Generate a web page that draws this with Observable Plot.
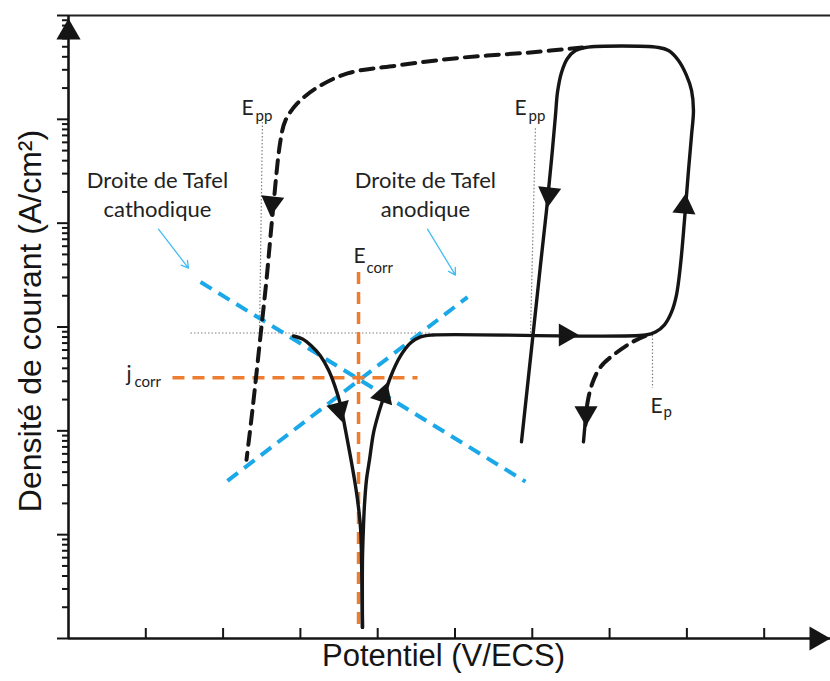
<!DOCTYPE html>
<html>
<head>
<meta charset="utf-8">
<script src="https://cdn.jsdelivr.net/npm/d3@7"></script>
<script src="https://cdn.jsdelivr.net/npm/@observablehq/plot@0.6"></script>
<style>
  html, body { margin: 0; padding: 0; background: #fff; }
  #chart svg { display: block; }
</style>
</head>
<body>
<div id="chart"></div>
<script>
// ---------- data (potential in arbitrary units, current density in A/cm²) ----------
const potentialTicks = [1, 2, 3, 4, 5, 6, 7, 8, 9];
const currentDecades = [1e-8, 1e-7, 1e-6, 1e-5, 1e-4, 1e-3, 1e-2];
const minorMultipliers = [2, 3, 4, 5, 6, 7, 8, 9];

// cathodic branch (solid) from top-left down to E_corr
const cathodicBranch = [
  [2.911, 8.19e-6], [3.027, 7.67e-6], [3.144, 6.56e-6], [3.260, 5.26e-6], [3.364, 3.86e-6],
  [3.441, 2.77e-6], [3.519, 1.78e-6], [3.583, 1.02e-6], [3.648, 5.62e-7], [3.700, 3.38e-7],
  [3.739, 2.17e-7], [3.777, 1.19e-7], [3.790, 6.43e-8], [3.803, 1.28e-8]
];

// anodic branch, passive plateau, pitting loop and reverse scan (solid)
const anodicLoop = [
  [3.803, 1.28e-8], [3.803, 5.75e-8], [3.816, 1.19e-7], [3.829, 1.94e-7], [3.855, 3.38e-7],
  [3.894, 5.26e-7], [3.946, 9.57e-7], [4.010, 1.46e-6], [4.075, 2.07e-6], [4.166, 3.30e-6],
  [4.295, 5.26e-6], [4.424, 7.01e-6], [4.554, 8.02e-6], [4.709, 8.37e-6], [7.464, 8.37e-6],
  [7.594, 8.95e-6], [7.710, 1.05e-5], [7.801, 1.39e-5], [7.865, 2.03e-5], [7.917, 3.94e-5],
  [7.969, 1.07e-4], [8.021, 3.24e-4], [8.060, 7.01e-4], [8.085, 1.22e-3], [8.060, 1.90e-3],
  [7.995, 2.65e-3], [7.891, 3.69e-3], [7.762, 4.60e-3], [7.633, 4.92e-3], [6.688, 4.92e-3],
  [6.559, 4.60e-3], [6.455, 3.86e-3], [6.378, 2.83e-3], [6.326, 1.82e-3], [6.300, 1.09e-3],
  [6.248, 4.04e-4], [6.184, 1.33e-4], [6.106, 3.94e-5], [6.016, 9.35e-6], [5.860, 7.83e-7]
];

// reverse scan continuing (dashed) towards the left
const reverseScan = [
  [6.649, 4.92e-3], [5.977, 4.41e-3], [5.110, 3.94e-3], [4.256, 3.30e-3], [3.609, 2.77e-3],
  [3.221, 2.03e-3], [2.963, 1.43e-3], [2.807, 9.77e-4], [2.743, 6.28e-4], [2.639, 1.19e-4],
  [2.561, 2.83e-5], [2.471, 6.71e-6], [2.380, 1.59e-6], [2.303, 5.26e-7]
];

// repassivation after E_p (dashed) and its solid tail
const repassivation = [
  [7.464, 8.19e-6], [7.296, 7.18e-6], [7.050, 5.38e-6], [6.882, 4.12e-6],
  [6.779, 2.90e-6], [6.714, 1.86e-6], [6.688, 1.14e-6]
];
const repassivationTail = [[6.688, 1.28e-6], [6.662, 7.83e-7]];

// dotted guide lines (E_pp, E_pp, plateau, E_p)
const guideLines = [
  {E1: 2.510, j1: 1.02e-3, E2: 2.471, j2: 8.57e-6},
  {E1: 6.041, j1: 8.19e-4, E2: 5.977, j2: 8.75e-6},
  {E1: 1.578, j1: 8.75e-6, E2: 4.683, j2: 8.75e-6},
  {E1: 7.555, j1: 8.37e-6, E2: 7.555, j2: 2.59e-6}
];

// Tafel lines (cathodic, anodic)
const tafelLines = [
  {E1: 1.708, j1: 2.71e-5, E2: 5.912, j2: 3.24e-7},
  {E1: 2.057, j1: 3.30e-7, E2: 5.162, j2: 1.94e-5}
];

// E_corr and j_corr lines
const corrosionLines = [
  {E1: 3.752, j1: 3.38e-5, E2: 3.752, j2: 1.36e-8},
  {E1: 1.345, j1: 3.24e-6, E2: 4.515, j2: 3.24e-6}
];

// thin pointers from Tafel labels
const labelPointers = [
  {E1: 1.164, j1: 8.75e-5, E2: 1.552, j2: 3.69e-5},
  {E1: 4.644, j1: 8.75e-5, E2: 5.006, j2: 3.16e-5}
];

// direction arrows along the curves (angle in degrees, 0 = up)
const flowArrows = [
  {E: 2.633, j: 1.56e-4, angle: 186},
  {E: 3.502, j: 1.61e-6, angle: 166},
  {E: 4.071, j: 2.20e-6, angle: 18},
  {E: 6.430, j: 8.37e-6, angle: 90},
  {E: 7.969, j: 1.44e-4, angle: 5},
  {E: 6.216, j: 1.90e-4, angle: 186},
  {E: 6.695, j: 1.49e-6, angle: 180}
];

// annotation labels (symbol + subscript)
const symbolLabels = [
  {E: 2.238, j: 1.28e-3, t: "E"},
  {E: 5.770, j: 1.28e-3, t: "E"},
  {E: 3.687, j: 4.82e-5, t: "E"},
  {E: 0.750, j: 3.53e-6, t: "j"},
  {E: 7.529, j: 1.74e-6, t: "E"}
];
const subscriptLabels = [
  {E: 2.419, j: 1.07e-3, t: "pp"},
  {E: 5.951, j: 1.07e-3, t: "pp"},
  {E: 3.855, j: 3.69e-5, t: "corr"},
  {E: 0.854, j: 2.96e-6, t: "corr"},
  {E: 7.697, j: 1.52e-6, t: "p"}
];
const tafelLabels = [
  {E: 1.151, j: 1.96e-4, t: "Droite de Tafel\ncathodique"},
  {E: 4.618, j: 1.96e-4, t: "Droite de Tafel\nanodique"}
];
const xTitle = "Potentiel (V/ECS)";
const yTitle = "Densité de courant (A/cm²)";

// ---------- chart ----------
const minorTicks = currentDecades.slice(0, -1).flatMap(d => minorMultipliers.map(m => m * d));
const ink = "#151515";
const curve = (pts, opts) => Plot.line(pts, {x: d => d[0], y: d => d[1], curve: "catmull-rom", stroke: ink, strokeWidth: 3.4, ...opts});
const seg = {x1: "E1", y1: "j1", x2: "E2", y2: "j2"};

const chart = Plot.plot({
  width: 830,
  height: 681,
  marginLeft: 68,
  marginRight: 2,
  marginTop: 15,
  marginBottom: 43,
  x: {domain: [0, 9.832]},
  y: {type: "log", domain: [1e-8, 1e-2]},
  style: {fontFamily: "Lato, 'Open Sans', sans-serif", background: "#fff", color: ink},
  marks: [
    // frame lines
    Plot.ruleY([1e-2], {stroke: "#222", strokeWidth: 2, insetRight: -2}),
    Plot.ruleX([0], {stroke: ink, strokeWidth: 2.6}),
    Plot.ruleY([1e-8], {stroke: ink, strokeWidth: 2.6, insetRight: -2}),
    // ticks
    Plot.axisY(currentDecades, {tickSize: 11, strokeWidth: 2, stroke: ink, fill: "none", label: null}),
    Plot.axisY(minorTicks, {tickSize: 6, strokeWidth: 2, stroke: ink, fill: "none", label: null}),
    Plot.axisX(potentialTicks, {tickSize: 10, dy: -10, strokeWidth: 2, stroke: ink, fill: "none", label: null}),
    // dotted guides
    Plot.link(guideLines, {...seg, stroke: "#808080", strokeWidth: 1.2, strokeDasharray: "1.5,2"}),
    // Tafel lines
    Plot.link(tafelLines, {...seg, stroke: "#1ba8e8", strokeWidth: 4, strokeDasharray: "13,8"}),
    Plot.arrow(labelPointers, {...seg, stroke: "#45bdf2", strokeWidth: 1.3, headLength: 9}),
    // E_corr / j_corr
    Plot.link(corrosionLines, {...seg, stroke: "#ed7d31", strokeWidth: 3.5, strokeDasharray: "12,8"}),
    // curves
    curve(reverseScan, {strokeWidth: 4, strokeDasharray: "13,8"}),
    curve(repassivation, {strokeWidth: 4, strokeDasharray: "13,8"}),
    curve(repassivationTail, {}),
    curve(cathodicBranch, {}),
    curve(anodicLoop, {}),
    // direction arrows
    Plot.dot(flowArrows, {x: "E", y: "j", rotate: "angle", symbol: "triangle", fill: ink, stroke: "none", r: 8.6}),
    // axis arrowheads
    Plot.dot([0], {frameAnchor: "top-left", dy: 17, symbol: "triangle", fill: ink, stroke: "none", r: 9}),
    Plot.dot([0], {frameAnchor: "bottom-right", dx: -12, rotate: 90, symbol: "triangle", fill: ink, stroke: "none", r: 9}),
    // labels
    Plot.text(symbolLabels, {x: "E", y: "j", text: "t", textAnchor: "start", fontSize: 21, fill: "#222"}),
    Plot.text(subscriptLabels, {x: "E", y: "j", text: "t", textAnchor: "start", fontSize: 15, fill: "#222"}),
    Plot.text(tafelLabels, {x: "E", y: "j", text: "t", textAnchor: "middle", fontSize: 22, lineHeight: 1.32, fill: "#222"}),
    Plot.text([xTitle], {text: d => d, frameAnchor: "bottom", textAnchor: "middle", dy: 27, dx: -5, fontSize: 31, fontFamily: "'Liberation Sans', Arial, sans-serif", fill: ink}),
    Plot.text([yTitle], {text: d => d, frameAnchor: "left", textAnchor: "middle", dx: -38, dy: -6, rotate: -90, fontSize: 32, fontFamily: "'Liberation Sans', Arial, sans-serif", fill: ink})
  ]
});
document.getElementById("chart").appendChild(chart);
</script>
</body>
</html>
